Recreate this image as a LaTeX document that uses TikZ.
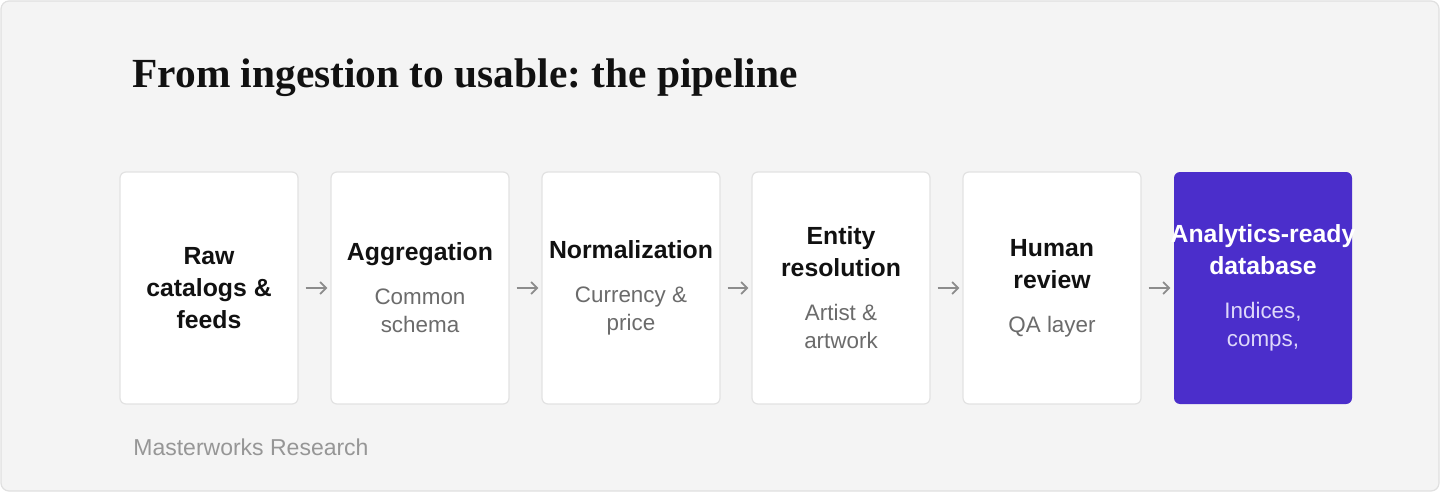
\documentclass[tikz,border=0pt]{standalone}
\usepackage{fontspec}
\setsansfont{Liberation Sans}
\newfontfamily\headfont{Liberation Serif}
\usetikzlibrary{arrows.meta}

\definecolor{panel}{RGB}{244,244,244}
\definecolor{panelline}{RGB}{224,224,224}
\definecolor{boxline}{RGB}{226,226,226}
\definecolor{ink}{RGB}{17,17,17}
\definecolor{subgray}{RGB}{107,107,107}
\definecolor{arrowgray}{RGB}{140,140,140}
\definecolor{footgray}{RGB}{150,150,150}
\definecolor{violet}{RGB}{75,46,203}
\definecolor{lavender}{RGB}{222,216,250}

\newcommand{\stagenote}[2][subgray]{{\mdseries\fontsize{11.2}{14}\selectfont\color{#1}#2}}

\tikzset{
  stage/.style={draw=boxline, line width=0.6pt, fill=white, rounded corners=3pt,
    minimum width=89pt, minimum height=116pt, inner sep=0pt, align=center,
    font=\sffamily\bfseries\fontsize{12.4}{16}\selectfont, text=ink},
  final/.style={stage, draw=none, fill=violet, text=white},
  flow/.style={-{Straight Barb[length=3pt,width=6pt]}, arrowgray, line width=0.9pt,
    shorten <=3.5pt, shorten >=1.5pt}
}

\begin{document}
\begin{tikzpicture}[x=0.5pt, y=-0.5pt]
\useasboundingbox (0,0) rectangle (1440,492);
\draw[fill=panel, draw=panelline, line width=0.6pt, rounded corners=4pt] (1,1) rectangle (1439,491);

\node[anchor=base west, inner sep=0pt, font=\headfont\bfseries\fontsize{20.7}{24}\selectfont\frenchspacing, text=ink] (title) at (132,88) {From ingestion to usable: the pipeline};

% stages
\node[stage] (raw) at (209,288) {Raw\\catalogs \&\\feeds};
\node[stage] (agg) at (420,288) {Aggregation\\[6pt]\stagenote{Common}\\[-2pt]\stagenote{schema}};
\node[stage] (norm) at (631,288) {Normalization\\[6pt]\stagenote{Currency \&}\\[-2pt]\stagenote{price}};
\node[stage] (entity) at (841,288) {Entity\\resolution\\[6pt]\stagenote{Artist \&}\\[-2pt]\stagenote{artwork}};
\node[stage] (review) at (1052,288) {Human\\review\\[6pt]\stagenote{QA layer}};
\node[final] (db) at (1263,288) {\makebox[80pt]{Analytics-ready}\\database\\[6pt]\stagenote[lavender]{Indices,}\\[-2pt]\stagenote[lavender]{comps,}};

\foreach \a/\b in {raw/agg, agg/norm, norm/entity, entity/review, review/db}
{
    \draw[flow] (\a.east) -- (\b.west);
}

\node[anchor=base west, inner sep=0pt, font=\sffamily\fontsize{11.5}{14}\selectfont, text=footgray] (credit) at (133,455) {Masterworks Research};
\end{tikzpicture}
\end{document}
